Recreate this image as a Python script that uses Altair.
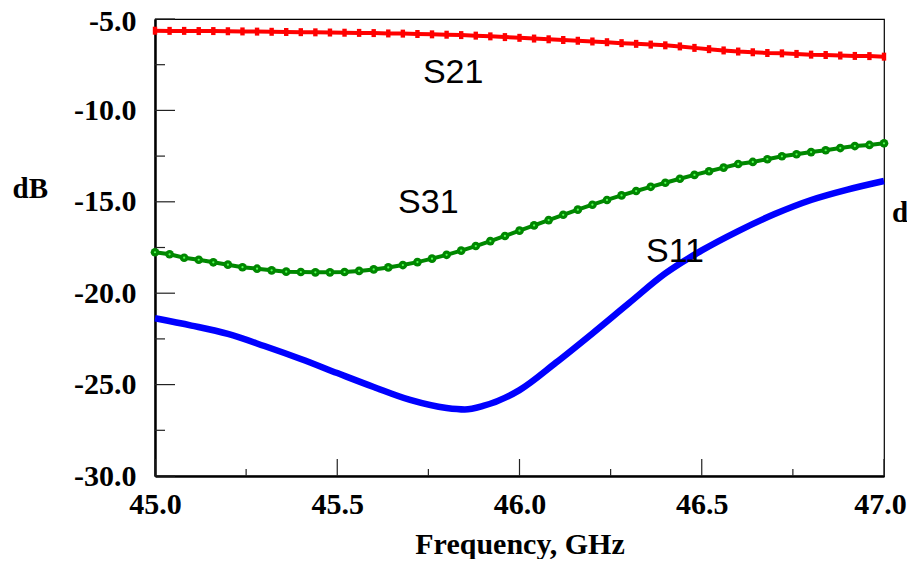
import altair as alt
import pandas as pd

# ---- data ----
freq = [45.00, 45.04, 45.08, 45.12, 45.16, 45.20, 45.24, 45.28, 45.32, 45.36,
        45.40, 45.44, 45.48, 45.52, 45.56, 45.60, 45.64, 45.68, 45.72, 45.76,
        45.80, 45.84, 45.88, 45.92, 45.96, 46.00, 46.04, 46.08, 46.12, 46.16,
        46.20, 46.24, 46.28, 46.32, 46.36, 46.40, 46.44, 46.48, 46.52, 46.56,
        46.60, 46.64, 46.68, 46.72, 46.76, 46.80, 46.84, 46.88, 46.92, 46.96,
        47.00]
s21 = [-5.64, -5.65, -5.65, -5.66, -5.66, -5.67, -5.68, -5.69, -5.70, -5.71,
       -5.72, -5.73, -5.74, -5.75, -5.76, -5.77, -5.79, -5.80, -5.82, -5.84,
       -5.86, -5.88, -5.91, -5.95, -5.99, -6.03, -6.07, -6.11, -6.15, -6.19,
       -6.23, -6.27, -6.32, -6.36, -6.40, -6.44, -6.50, -6.58, -6.65, -6.72,
       -6.78, -6.82, -6.86, -6.88, -6.91, -6.95, -6.97, -7.00, -7.02, -7.03,
       -7.06]
s31 = [-17.76, -17.87, -18.06, -18.17, -18.31, -18.44, -18.58, -18.66, -18.75, -18.82,
       -18.84, -18.86, -18.86, -18.84, -18.78, -18.70, -18.59, -18.46, -18.30, -18.11,
       -17.90, -17.67, -17.42, -17.15, -16.87, -16.58, -16.29, -16.00, -15.71, -15.43,
       -15.16, -14.90, -14.65, -14.41, -14.18, -13.96, -13.74, -13.53, -13.33, -13.13,
       -12.93, -12.82, -12.67, -12.51, -12.40, -12.28, -12.18, -12.06, -11.95, -11.89,
       -11.80]
freq_s11 = [45.0, 45.1, 45.2, 45.3, 45.4, 45.5, 45.6, 45.7, 45.8, 45.85, 45.9,
            46.0, 46.1, 46.2, 46.3, 46.4, 46.5, 46.6, 46.7, 46.8, 46.9, 47.0]
s11 = [-21.37, -21.77, -22.23, -22.89, -23.60, -24.37, -25.13, -25.84, -26.28, -26.36, -26.17,
       -25.30, -23.80, -22.20, -20.55, -18.92, -17.66, -16.60, -15.67, -14.90, -14.33, -13.86]

label_text = ["S21", "S31", "S11"]
label_x = [45.735, 45.667, 46.347]
label_y = [-8.50, -15.61, -18.29]

x_major = [45.0, 45.5, 46.0, 46.5, 47.0]
x_minor = [45.25, 45.75, 46.25, 46.75]
y_major = [-30.0, -25.0, -20.0, -15.0, -10.0, -5.0]
y_minor = [-27.5, -22.5, -17.5, -12.5, -7.5]

W, H = 729, 457
SERIF = "Liberation Serif"
SANS = "Liberation Sans"

df_fine = pd.DataFrame({"f": freq, "s21": s21, "s31": s31})
df_s11 = pd.DataFrame({"f": freq_s11, "s11": s11})
df_lab = pd.DataFrame({"f": label_x, "v": label_y, "t": label_text})

xs = alt.Scale(domain=[45.0, 47.0], nice=False, zero=False)
ys = alt.Scale(domain=[-30.0, -5.0], nice=False, zero=False)

neg_fmt = "(datum.value < 0 ? '-' : '') + format(abs(datum.value), '.1f')"

x_axis = alt.Axis(values=x_major, labelExpr=neg_fmt, ticks=False, tickSize=0, grid=False,
                  labelFlush=False, labelFont=SERIF, labelFontWeight="bold", labelFontSize=30,
                  labelColor="black", labelPadding=13,
                  labelOffset={"condition": {"test": "datum.value == 47", "value": -4}, "value": 0},
                  domainColor="black", domainWidth=2.5,
                  title="Frequency, GHz", titleFont=SERIF, titleFontWeight="bold",
                  titleFontSize=30, titleColor="black", titlePadding=10)
y_axis = alt.Axis(values=y_major, labelExpr=neg_fmt, ticks=False, tickSize=0, grid=False,
                  labelFlush=False, labelFont=SERIF, labelFontWeight="bold", labelFontSize=30,
                  labelColor="black", labelPadding=19,
                  labelOffset={"condition": {"test": "datum.value == -5", "value": 2}, "value": 0},
                  domainColor="black", domainWidth=2.5,
                  title="dB", titleFont=SERIF, titleFontWeight="bold", titleFontSize=29,
                  titleColor="black", titleAngle=0, titleAlign="left",
                  titleBaseline="alphabetic", titleX=-143, titleY=178)

base = alt.Chart(df_fine)

s11_line = alt.Chart(df_s11).mark_line(color="#0000ff", strokeWidth=6.5, interpolate="monotone").encode(
    x=alt.X("f:Q", scale=xs, axis=x_axis),
    y=alt.Y("s11:Q", scale=ys, axis=y_axis),
)
s31_line = base.mark_line(color="#008800", strokeWidth=4).encode(
    x=alt.X("f:Q", scale=xs), y=alt.Y("s31:Q", scale=ys))
s31_pts = base.mark_point(shape="circle", filled=True, color="#008800", size=75, opacity=1).encode(
    x=alt.X("f:Q", scale=xs), y=alt.Y("s31:Q", scale=ys))
s31_dot = base.mark_point(shape="circle", filled=True, color="#55ff55", size=5, opacity=1).encode(
    x=alt.X("f:Q", scale=xs), y=alt.Y("s31:Q", scale=ys))
s21_line = base.mark_line(color="#ff0000", strokeWidth=4).encode(
    x=alt.X("f:Q", scale=xs), y=alt.Y("s21:Q", scale=ys))
s21_pts = base.mark_point(shape="M-0.55,-1H0.55V1H-0.55Z", filled=True, color="#ff0000",
                          size=64, opacity=1).encode(
    x=alt.X("f:Q", scale=xs), y=alt.Y("s21:Q", scale=ys))

labels = alt.Chart(df_lab).mark_text(font=SANS, fontSize=34, align="left",
                                     baseline="alphabetic", color="black").encode(
    x=alt.X("f:Q", scale=xs), y=alt.Y("v:Q", scale=ys), text="t:N")

tick_color = "#222222"
xmaj = alt.Chart(pd.DataFrame({"f": x_major})).mark_rule(color=tick_color, strokeWidth=1.2).encode(
    x=alt.X("f:Q", scale=xs), y=alt.value(H), y2=alt.value(H - 17))
xmin = alt.Chart(pd.DataFrame({"f": x_minor})).mark_rule(color=tick_color, strokeWidth=1.2).encode(
    x=alt.X("f:Q", scale=xs), y=alt.value(H), y2=alt.value(H - 7))
ymaj = alt.Chart(pd.DataFrame({"v": y_major})).mark_rule(color=tick_color, strokeWidth=1.2).encode(
    y=alt.Y("v:Q", scale=ys), x=alt.value(0), x2=alt.value(20))
ymin = alt.Chart(pd.DataFrame({"v": y_minor})).mark_rule(color=tick_color, strokeWidth=1.2).encode(
    y=alt.Y("v:Q", scale=ys), x=alt.value(0), x2=alt.value(10))

right_db = alt.Chart(pd.DataFrame({"t": ["dB"]})).mark_text(
    font=SERIF, fontWeight="bold", fontSize=29, align="left", baseline="alphabetic",
    color="black").encode(x=alt.value(W + 8), y=alt.value(203), text="t:N")

chart = alt.layer(
    s11_line, s31_line, s31_pts, s31_dot, s21_line, s21_pts, labels,
    xmaj, xmin, ymaj, ymin, right_db,
).properties(
    width=W, height=H,
    autosize=alt.AutoSizeParams(type="none"),
    padding={"left": 147, "top": 11, "right": 899 - 147 - W, "bottom": 551 - 11 - H},
    background="white",
).configure_view(stroke="black", strokeWidth=1.2)

chart.save("out.html", embed_options={"renderer": "svg", "actions": False})
